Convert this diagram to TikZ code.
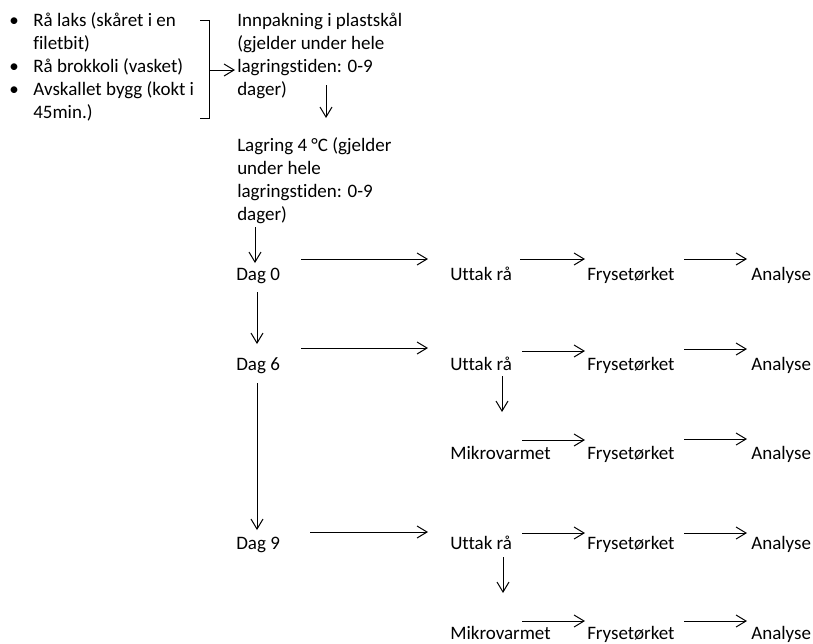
\documentclass[tikz,border=0pt]{standalone}
\usepackage{fontspec}
\setmainfont{Carlito}[Ligatures=NoCommon]
\usetikzlibrary{arrows.meta}
\usetikzlibrary{calc}

\tikzset{
  lbl/.style={anchor=base west, inner sep=0pt, align=left, font=\fontsize{14.25pt}{17.1pt}\selectfont},
  arr/.style={-{Straight Barb[length=7.5pt,width=9pt]}, line width=0.75pt},
}
\newcommand{\bul}{\textbullet\hspace*{11pt}}
\newcommand{\bulind}{\hspace*{18pt}}

\begin{document}
\begin{tikzpicture}[x=0.75pt,y=0.75pt,yscale=-1,xscale=1]
\useasboundingbox (0,0) rectangle (813,643);

\draw (9,118) node (raa) [lbl] {\bul Rå laks (skåret i en\\\bulind filetbit)\\\bul Rå brokkoli (vasket)\\\bul Avskallet bygg (kokt i\\\bulind 45min.)};
\draw (237,95) node (pakk) [lbl] {Innpakning i plastskål\\(gjelder under hele\\lagringstiden: 0-9\\dager)};
\draw (237,220) node (lagr) [lbl] {Lagring 4 °C (gjelder\\under hele\\lagringstiden: 0-9\\dager)};

\draw (236,280) node (dag0) [lbl] {Dag 0};
\draw (450,280) node (utt0) [lbl] {Uttak rå};
\draw (587,280) node (fry0) [lbl] {Frysetørket};
\draw (751,280) node (ana0) [lbl] {Analyse};

\draw (236,370) node (dag6) [lbl] {Dag 6};
\draw (450,370) node (utt6) [lbl] {Uttak rå};
\draw (587,370) node (fry6) [lbl] {Frysetørket};
\draw (751,370) node (ana6) [lbl] {Analyse};
\draw (450,459) node (mik6) [lbl] {Mikrovarmet};
\draw (587,459) node (frym6) [lbl] {Frysetørket};
\draw (751,459) node (anam6) [lbl] {Analyse};

\draw (236,549) node (dag9) [lbl] {Dag 9};
\draw (450,549) node (utt9) [lbl] {Uttak rå};
\draw (587,549) node (fry9) [lbl] {Frysetørket};
\draw (751,549) node (ana9) [lbl] {Analyse};
\draw (450,639) node (mik9) [lbl] {Mikrovarmet};
\draw (587,639) node (frym9) [lbl] {Frysetørket};
\draw (751,639) node (anam9) [lbl] {Analyse};

\draw (200,20) -- (209.5,20) -- (209.5,118) -- (200,118);
\coordinate (brk) at (209.5,70);
\draw [arr] (brk) -- ($(pakk.base west)+(-2,-25)$);

\draw [arr] ($(pakk.base west)+(89,-10)$) -- ($(lagr.base west)+(89,-102)$);
\draw [arr] ($(lagr.base west)+(18,7)$) -- ($(dag0.base west)+(19,-17)$);
\draw [arr] ($(dag0.base west)+(21,12)$) -- ($(dag6.base west)+(21,-26)$);
\draw [arr] ($(dag6.base west)+(21,13)$) -- ($(dag9.base west)+(21,-19)$);
\draw [arr] ($(utt6.base west)+(52,6)$) -- ($(mik6.base west)+(52,-47)$);
\draw [arr] ($(utt9.base west)+(53,8)$) -- ($(mik9.base west)+(53,-46)$);

\draw [arr] ($(dag0.base west)+(65,-21)$) -- ($(utt0.base west)+(-22,-21)$);
\draw [arr] ($(utt0.base west)+(70,-21)$) -- ($(fry0.base west)+(-2,-21)$);
\draw [arr] ($(fry0.base west)+(97,-21)$) -- ($(ana0.base west)+(-4,-21)$);

\draw [arr] ($(dag6.base west)+(65,-22)$) -- ($(utt6.base west)+(-22,-22)$);
\draw [arr] ($(utt6.base west)+(72,-19)$) -- ($(fry6.base west)+(-2,-19)$);
\draw [arr] ($(fry6.base west)+(97,-21)$) -- ($(ana6.base west)+(-4,-21)$);
\draw [arr] ($(mik6.base west)+(72,-19)$) -- ($(frym6.base west)+(-2,-19)$);
\draw [arr] ($(frym6.base west)+(97,-20)$) -- ($(anam6.base west)+(-4,-20)$);

\draw [arr] ($(dag9.base west)+(74,-17)$) -- ($(utt9.base west)+(-22,-17)$);
\draw [arr] ($(utt9.base west)+(72,-16)$) -- ($(fry9.base west)+(-2,-16)$);
\draw [arr] ($(fry9.base west)+(97,-16)$) -- ($(ana9.base west)+(-4,-16)$);
\draw [arr] ($(mik9.base west)+(72,-18)$) -- ($(frym9.base west)+(-2,-18)$);
\draw [arr] ($(frym9.base west)+(97,-18)$) -- ($(anam9.base west)+(-4,-18)$);

\end{tikzpicture}
\end{document}
